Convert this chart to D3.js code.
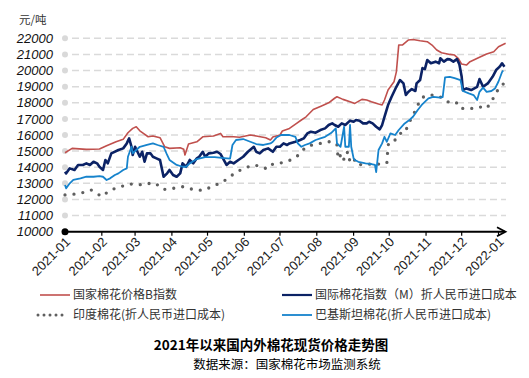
<!DOCTYPE html>
<html>
<head>
<meta charset="utf-8">
<script src="https://cdn.jsdelivr.net/npm/d3@7"></script>
<style>
body { margin: 0; background: #fff; }
svg { display: block; }
</style>
</head>
<body>
<script>
//Width and height
var w = 529;
var h = 378;

//Axis labels
var monthLabels = ["2021-01", "2021-02", "2021-03", "2021-04", "2021-05", "2021-06", "2021-07",
    "2021-08", "2021-09", "2021-10", "2021-11", "2021-12", "2022-01"];
var yTicks = [10000, 11000, 12000, 13000, 14000, 15000, 16000, 17000, 18000, 19000, 20000, 21000, 22000];
var seriesNames = ["国家棉花价格B指数", "国际棉花指数（M）折人民币进口成本",
    "印度棉花(折人民币进口成本)", "巴基斯坦棉花(折人民币进口成本)"];

//国家棉花价格B指数
var bIndex = [
    ["2021-01-04", 14900], ["2021-01-10", 15170], ["2021-01-22", 15110], ["2021-02-02", 15130],
    ["2021-02-08", 15330], ["2021-02-16", 15580], ["2021-02-22", 15730], ["2021-02-26", 16140],
    ["2021-03-02", 16410], ["2021-03-05", 16510], ["2021-03-08", 16260], ["2021-03-11", 16100],
    ["2021-03-15", 15890], ["2021-03-19", 15940], ["2021-03-25", 15830], ["2021-03-29", 15270],
    ["2021-04-02", 15170], ["2021-04-11", 15210], ["2021-04-14", 15110], ["2021-04-15", 14760],
    ["2021-04-18", 15440], ["2021-04-25", 15580], ["2021-04-30", 15890], ["2021-05-09", 15940],
    ["2021-05-15", 16100], ["2021-05-17", 15890], ["2021-05-26", 15890], ["2021-05-31", 15860],
    ["2021-06-09", 16000], ["2021-06-14", 15940], ["2021-06-22", 15830], ["2021-06-26", 15690],
    ["2021-06-28", 15870], ["2021-07-04", 16000], ["2021-07-06", 16250], ["2021-07-12", 16410],
    ["2021-07-18", 16720], ["2021-07-22", 16930], ["2021-07-26", 17130], ["2021-08-01", 17580],
    ["2021-08-08", 17800], ["2021-08-14", 18000], ["2021-08-19", 18280], ["2021-08-21", 18370],
    ["2021-08-26", 18210], ["2021-09-01", 18060], ["2021-09-05", 17960], ["2021-09-11", 18210],
    ["2021-09-15", 18170], ["2021-09-19", 18060], ["2021-09-25", 17920], ["2021-09-28", 17860],
    ["2021-09-30", 18170], ["2021-10-03", 18790], ["2021-10-08", 19300], ["2021-10-10", 19920],
    ["2021-10-12", 21580], ["2021-10-15", 21580], ["2021-10-20", 21890], ["2021-10-24", 21930],
    ["2021-10-30", 21850], ["2021-11-05", 21790], ["2021-11-09", 21580], ["2021-11-13", 21270],
    ["2021-11-17", 21100], ["2021-11-24", 21000], ["2021-11-28", 20960], ["2021-12-01", 20760],
    ["2021-12-04", 20400], ["2021-12-08", 20340], ["2021-12-11", 20550], ["2021-12-19", 20820],
    ["2021-12-25", 21020], ["2021-12-31", 21170], ["2022-01-04", 21480], ["2022-01-10", 21690]
];

//国际棉花指数(M)折人民币进口成本
var mIndex = [
    ["2021-01-04", 13720], ["2021-01-05", 13620], ["2021-01-08", 13930], ["2021-01-12", 13830],
    ["2021-01-15", 14140], ["2021-01-19", 14140], ["2021-01-22", 14240], ["2021-01-25", 14140],
    ["2021-01-28", 14340], ["2021-01-31", 14240], ["2021-02-02", 14030], ["2021-02-05", 13830],
    ["2021-02-07", 14450], ["2021-02-09", 14240], ["2021-02-12", 14860], ["2021-02-18", 15070],
    ["2021-02-22", 15170], ["2021-02-25", 15480], ["2021-02-27", 15790], ["2021-03-01", 15270],
    ["2021-03-02", 14760], ["2021-03-04", 15270], ["2021-03-06", 14960], ["2021-03-08", 14650],
    ["2021-03-10", 14960], ["2021-03-12", 14340], ["2021-03-14", 14860], ["2021-03-17", 14860],
    ["2021-03-19", 14650], ["2021-03-22", 14550], ["2021-03-25", 14450], ["2021-03-28", 13410],
    ["2021-03-31", 13620], ["2021-04-02", 13830], ["2021-04-05", 13520], ["2021-04-08", 13410],
    ["2021-04-11", 13620], ["2021-04-13", 14240], ["2021-04-16", 14030], ["2021-04-19", 14450],
    ["2021-04-22", 14240], ["2021-04-25", 14550], ["2021-04-27", 14650], ["2021-04-30", 14960],
    ["2021-05-02", 14650], ["2021-05-05", 14860], ["2021-05-09", 14900], ["2021-05-12", 14960],
    ["2021-05-15", 14820], ["2021-05-17", 14550], ["2021-05-20", 14140], ["2021-05-23", 14340],
    ["2021-05-26", 14240], ["2021-05-30", 14450], ["2021-06-03", 14650], ["2021-06-07", 14960],
    ["2021-06-12", 15270], ["2021-06-14", 14960], ["2021-06-17", 14860], ["2021-06-20", 15070],
    ["2021-06-24", 15170], ["2021-06-28", 14960], ["2021-07-01", 15270], ["2021-07-04", 15270],
    ["2021-07-07", 15480], ["2021-07-10", 15380], ["2021-07-12", 15480], ["2021-07-17", 15580],
    ["2021-07-21", 15690], ["2021-07-24", 15790], ["2021-07-27", 16100], ["2021-07-30", 16200],
    ["2021-08-03", 16140], ["2021-08-07", 16310], ["2021-08-11", 16410], ["2021-08-14", 16620],
    ["2021-08-17", 16720], ["2021-08-19", 16620], ["2021-08-22", 16510], ["2021-08-25", 16720],
    ["2021-08-28", 16620], ["2021-09-01", 16890], ["2021-09-04", 16820], ["2021-09-06", 16930],
    ["2021-09-09", 16890], ["2021-09-12", 16720], ["2021-09-15", 16720], ["2021-09-17", 16820],
    ["2021-09-20", 16720], ["2021-09-23", 16510], ["2021-09-26", 16350], ["2021-09-28", 16620],
    ["2021-09-30", 17130], ["2021-10-03", 17860], ["2021-10-06", 18370], ["2021-10-10", 18990],
    ["2021-10-13", 19410], ["2021-10-16", 19200], ["2021-10-18", 18480], ["2021-10-20", 18670],
    ["2021-10-23", 18850], ["2021-10-26", 18730], ["2021-10-27", 19200], ["2021-10-30", 19410],
    ["2021-11-01", 20150], ["2021-11-03", 20090], ["2021-11-05", 20650], ["2021-11-08", 20450],
    ["2021-11-12", 20550], ["2021-11-15", 20450], ["2021-11-16", 20760], ["2021-11-19", 20550],
    ["2021-11-22", 20710], ["2021-11-24", 20690], ["2021-11-27", 20550], ["2021-11-30", 20710],
    ["2021-12-02", 20400], ["2021-12-04", 19610], ["2021-12-05", 18790], ["2021-12-08", 18890],
    ["2021-12-12", 18790], ["2021-12-17", 18990], ["2021-12-19", 19470], ["2021-12-22", 18990],
    ["2021-12-26", 19200], ["2021-12-30", 19610], ["2022-01-02", 20030], ["2022-01-05", 20240],
    ["2022-01-07", 20450], ["2022-01-09", 20240]
];

//印度棉花(折人民币进口成本)
var india = [
    ["2021-01-04", 12280], ["2021-01-14", 12340], ["2021-01-22", 12480], ["2021-01-26", 12590],
    ["2021-02-04", 12180], ["2021-02-11", 12590], ["2021-02-20", 12790], ["2021-02-25", 12930],
    ["2021-03-02", 12960], ["2021-03-11", 12900], ["2021-03-19", 13050], ["2021-03-23", 12900],
    ["2021-03-28", 12620], ["2021-04-05", 12690], ["2021-04-13", 12790], ["2021-04-22", 12620],
    ["2021-04-30", 12560], ["2021-05-09", 12830], ["2021-05-17", 13100], ["2021-05-26", 13580],
    ["2021-06-03", 13930], ["2021-06-12", 14140], ["2021-06-19", 14030], ["2021-06-23", 13890],
    ["2021-06-28", 14200], ["2021-07-06", 14280], ["2021-07-13", 14450], ["2021-07-18", 14650],
    ["2021-07-22", 14960], ["2021-07-26", 15270], ["2021-07-31", 15380], ["2021-08-07", 15480],
    ["2021-08-14", 15580], ["2021-08-18", 15580], ["2021-08-21", 15380], ["2021-08-22", 14510],
    ["2021-08-25", 14860], ["2021-08-27", 14450], ["2021-08-30", 14960], ["2021-09-01", 14340],
    ["2021-09-04", 14550], ["2021-09-07", 14140], ["2021-09-14", 14200], ["2021-09-22", 14170],
    ["2021-10-02", 14260], ["2021-10-03", 15380], ["2021-10-06", 15690], ["2021-10-09", 15690],
    ["2021-10-13", 16100], ["2021-10-17", 16120], ["2021-10-21", 16800], ["2021-10-27", 17670],
    ["2021-10-30", 18170], ["2021-11-02", 18370], ["2021-11-06", 18480], ["2021-11-12", 18480],
    ["2021-11-16", 18370], ["2021-11-22", 18060], ["2021-11-29", 18060], ["2021-12-03", 17650],
    ["2021-12-08", 17650], ["2021-12-14", 17650], ["2021-12-19", 17750], ["2021-12-25", 17650],
    ["2021-12-29", 18060], ["2022-01-01", 18480], ["2022-01-05", 19000], ["2022-01-08", 19160]
];

//巴基斯坦棉花(折人民币进口成本)
var pakistan = [
    ["2021-01-04", 12900], ["2021-01-05", 12690], ["2021-01-08", 13000], ["2021-01-11", 13210],
    ["2021-01-17", 13310], ["2021-01-22", 13410], ["2021-01-28", 13410], ["2021-02-02", 13450],
    ["2021-02-05", 13410], ["2021-02-08", 13210], ["2021-02-11", 13310], ["2021-02-15", 13520],
    ["2021-02-18", 13620], ["2021-02-22", 13830], ["2021-02-25", 13930], ["2021-02-26", 14650],
    ["2021-03-01", 15270], ["2021-03-02", 14860], ["2021-03-05", 15070], ["2021-03-08", 15270],
    ["2021-03-14", 15380], ["2021-03-19", 15480], ["2021-03-23", 15380], ["2021-03-28", 15270],
    ["2021-03-31", 14760], ["2021-04-02", 14450], ["2021-04-08", 14140], ["2021-04-13", 14030],
    ["2021-04-16", 14030], ["2021-04-19", 14240], ["2021-04-25", 14510], ["2021-05-02", 14630],
    ["2021-05-10", 14630], ["2021-05-18", 14570], ["2021-05-23", 14540], ["2021-05-25", 15380],
    ["2021-05-28", 15690], ["2021-06-03", 15750], ["2021-06-09", 15580], ["2021-06-14", 15440],
    ["2021-06-20", 15380], ["2021-06-26", 15480], ["2021-06-28", 15580], ["2021-07-01", 15840],
    ["2021-07-05", 16000], ["2021-07-12", 16000], ["2021-07-17", 15890], ["2021-07-19", 15480],
    ["2021-07-22", 15270], ["2021-07-25", 15380], ["2021-07-29", 15480], ["2021-08-03", 15690],
    ["2021-08-07", 15790], ["2021-08-11", 15890], ["2021-08-16", 16120], ["2021-08-20", 16410],
    ["2021-08-21", 15480], ["2021-08-24", 15270], ["2021-08-27", 16510], ["2021-08-28", 15270],
    ["2021-08-31", 15270], ["2021-09-01", 16620], ["2021-09-02", 15270], ["2021-09-04", 14550],
    ["2021-09-05", 14450], ["2021-09-08", 14340], ["2021-09-14", 14240], ["2021-09-19", 14200],
    ["2021-09-22", 14140], ["2021-09-23", 13700], ["2021-09-25", 15070], ["2021-09-28", 15480],
    ["2021-09-30", 15890], ["2021-10-02", 15580], ["2021-10-05", 16100], ["2021-10-09", 16000],
    ["2021-10-12", 16310], ["2021-10-17", 16720], ["2021-10-21", 16930], ["2021-10-24", 17130],
    ["2021-10-28", 17550], ["2021-11-01", 17920], ["2021-11-06", 18270], ["2021-11-10", 18370],
    ["2021-11-16", 18320], ["2021-11-18", 18350], ["2021-11-20", 19570], ["2021-11-24", 19610],
    ["2021-11-28", 19530], ["2021-12-03", 19410], ["2021-12-05", 18730], ["2021-12-10", 18580],
    ["2021-12-14", 18480], ["2021-12-17", 18170], ["2021-12-19", 18680], ["2021-12-22", 18940],
    ["2021-12-25", 18680], ["2021-12-29", 18730], ["2022-01-01", 18880], ["2022-01-04", 19320],
    ["2022-01-07", 19910], ["2022-01-08", 20000]
];

var parseDate = d3.timeParse("%Y-%m-%d");
var cjk = "'Noto Sans CJK SC', sans-serif";

//Create scale functions (ticks fall on the 4th, where the data starts)
var xScale = d3.scaleTime()
    .domain([parseDate("2021-01-04"), parseDate("2022-01-04")])
    .range([65, 498.5]);

var yScale = d3.scaleLinear()
    .domain([10000, 22000])
    .range([231.7, 38.3]);

var xTicks = monthLabels.map(function(m) { return parseDate(m + "-04"); });

//Create SVG element
var svg = d3.select("body")
    .append("svg")
    .attr("width", w)
    .attr("height", h);

// unit label
svg.append("text")
    .attr("x", 19).attr("y", 24)
    .style("font-family", cjk).style("font-size", "11.5px").attr("fill", "#333")
    .text("元/吨");

// gridlines, grey dots and y labels
var grid = svg.append("g");
grid.selectAll("line")
    .data(yTicks.filter(function(d) { return d > 10000; }))
    .enter().append("line")
    .attr("x1", 72).attr("x2", 506)
    .attr("y1", function(d) { return yScale(d); })
    .attr("y2", function(d) { return yScale(d); })
    .attr("stroke", "#dadada").attr("stroke-width", 1.5)
    .attr("stroke-dasharray", "7,4");
grid.selectAll("circle")
    .data(yTicks.filter(function(d) { return d > 10000; }))
    .enter().append("circle")
    .attr("cx", 65).attr("cy", function(d) { return yScale(d); })
    .attr("r", 3).attr("fill", "#d9d9d9");
grid.selectAll("text")
    .data(yTicks)
    .enter().append("text")
    .attr("x", 53).attr("y", function(d) { return yScale(d); })
    .attr("dy", "0.36em").attr("text-anchor", "end")
    .style("font-family", "'Liberation Sans', Arial, sans-serif")
    .style("font-size", "13px").style("font-style", "italic").attr("fill", "#111")
    .text(function(d) { return d; });

// x axis: line, start dot, arrow, ticks
var y0 = yScale(10000);
svg.append("line")
    .attr("x1", 65).attr("x2", 505).attr("y1", y0).attr("y2", y0)
    .attr("stroke", "#000").attr("stroke-width", 2);
svg.append("circle").attr("cx", 65).attr("cy", y0).attr("r", 3.5).attr("fill", "#000");
svg.append("path")
    .attr("d", "M497," + (y0 - 4.5) + "L505.5," + y0 + "L497," + (y0 + 4.5))
    .attr("fill", "none").attr("stroke", "#000").attr("stroke-width", 1.8);
svg.append("g").selectAll("line")
    .data(xTicks.slice(1))
    .enter().append("line")
    .attr("x1", function(d) { return xScale(d); })
    .attr("x2", function(d) { return xScale(d); })
    .attr("y1", y0).attr("y2", y0 + 4)
    .attr("stroke", "#000").attr("stroke-width", 1.2);
svg.append("g").selectAll("text")
    .data(xTicks)
    .enter().append("text")
    .attr("transform", function(d) { return "translate(" + (xScale(d) + 6) + "," + (y0 + 11) + ") rotate(-45)"; })
    .attr("text-anchor", "end")
    .style("font-family", "'Liberation Sans', Arial, sans-serif")
    .style("font-size", "13px").attr("fill", "#222")
    .text(function(d, i) { return monthLabels[i]; });

// series lines
var line = d3.line()
    .x(function(d) { return xScale(parseDate(d[0])); })
    .y(function(d) { return yScale(d[1]); });

var series = [
    { data: bIndex, color: "#c0504d", width: 1.6, dash: null },
    { data: mIndex, color: "#0b2265", width: 2.6, dash: null },
    { data: india, color: "#5f5f5f", width: 3.3, dash: "0,9" },
    { data: pakistan, color: "#1683cc", width: 1.8, dash: null }
];

series.forEach(function(s) {
    svg.append("path")
        .datum(s.data)
        .attr("d", line)
        .attr("fill", "none")
        .attr("stroke", s.color)
        .attr("stroke-width", s.width)
        .attr("stroke-linejoin", "round")
        .attr("stroke-linecap", s.dash ? "round" : "butt")
        .attr("stroke-dasharray", s.dash);
});

// legend
var legendPos = [[40, 295], [282, 295], [40, 315], [282, 315]];
series.forEach(function(s, i) {
    var p = legendPos[i];
    var g = svg.append("g").attr("transform", "translate(" + p[0] + "," + p[1] + ")");
    g.append("line")
        .attr("x1", i == 2 ? -2 : 0).attr("x2", i == 2 ? 24 : 30)
        .attr("stroke", s.color)
        .attr("stroke-width", i == 2 ? 3 : Math.min(s.width, 2.2))
        .attr("stroke-linecap", s.dash ? "round" : "butt")
        .attr("stroke-dasharray", s.dash ? "0,6" : null);
    g.append("text")
        .attr("x", 33).attr("dy", "0.35em")
        .style("font-family", cjk).style("font-size", "12px").attr("fill", "#333")
        .text(seriesNames[i]);
});

// title and source
svg.append("text")
    .attr("x", 271).attr("y", 350).attr("text-anchor", "middle")
    .style("font-family", cjk).style("font-size", "13.5px").style("font-weight", "bold")
    .attr("fill", "#000")
    .text("2021年以来国内外棉花现货价格走势图");
svg.append("text")
    .attr("x", 287).attr("y", 369).attr("text-anchor", "middle")
    .style("font-family", cjk).style("font-size", "12.5px").attr("fill", "#000")
    .text("数据来源：国家棉花市场监测系统");
</script>
</body>
</html>
